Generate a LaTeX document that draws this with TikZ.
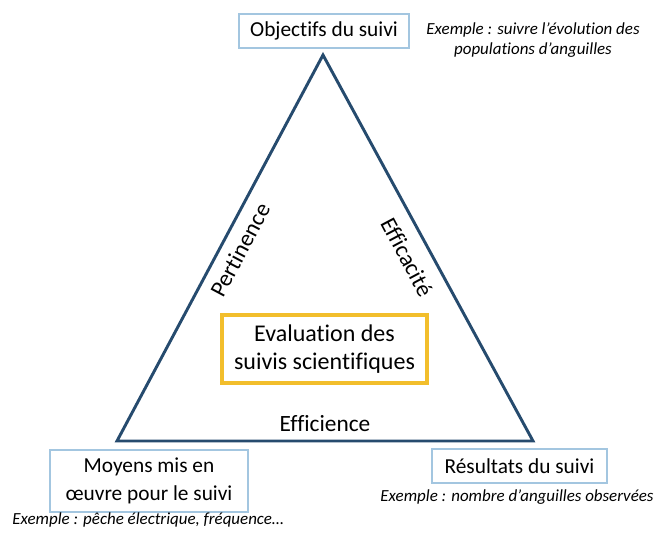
\documentclass[tikz,border=0pt]{standalone}
\usepackage{fontspec}
\setmainfont{Carlito}[RawFeature=-liga]
\usetikzlibrary{positioning}

\definecolor{sidecol}{HTML}{264B6E}
\definecolor{boxcol}{HTML}{A3C6E0}
\definecolor{evalcol}{HTML}{F2BE2C}

\begin{document}
\begin{tikzpicture}[
  x=0.75pt,
  y=-0.75pt,
  side/.style={draw=sidecol, line width=2.2pt, line join=miter},
  stagebox/.style={
    draw=boxcol,
    fill=white,
    line width=1.5pt,
    align=center,
    inner sep=2pt,
    font=\fontsize{16}{20.5}\selectfont
  },
  evalbox/.style={
    draw=evalcol,
    fill=white,
    line width=3pt,
    align=center,
    inner sep=2pt,
    font=\fontsize{18}{20.5}\selectfont
  },
  criterion/.style={font=\fontsize{17.5}{20}\selectfont, inner sep=0pt},
  example/.style={font=\fontsize{12.7}{15}\selectfont\itshape, align=center, inner sep=0pt}
]
\useasboundingbox (0,0) rectangle (656,534);

% ---------------------------------------------------------------------------
% Triangle
% ---------------------------------------------------------------------------
\coordinate (apex) at (323,55);
\coordinate (left) at (117,441);
\coordinate (right) at (533,441);
\draw[side] (apex) -- (left) -- (right) -- cycle;

\node[criterion, rotate=62] (pertinence) at (240,250) {Pertinence};
\node[criterion, rotate=-62] (efficacite) at (407,257) {Efficacité};
\node[criterion] (efficience) at (325,424) {Efficience};

\node[evalbox, minimum width=154pt, minimum height=51pt] (evaluation) at (324.5,349)
  {Evaluation des\\suivis scientifiques};

% ---------------------------------------------------------------------------
% Corner boxes and examples
% ---------------------------------------------------------------------------
\node[stagebox, minimum width=127.5pt, minimum height=25.5pt] (objectifs) at (324,31)
  {Objectifs du suivi};
\node[stagebox, minimum width=148.5pt, minimum height=46.5pt] (moyens) at (149,481)
  {Moyens mis en\\œuvre pour le suivi};
\node[stagebox, minimum width=131pt, minimum height=25.5pt] (resultats) at (519.5,466)
  {Résultats du suivi};

\node[example] (exobjectifs) at (533,40)
  {Exemple : suivre l’évolution des\\populations d’anguilles};
\node[example] (exmoyens) at (148,520)
  {Exemple : pêche électrique, fréquence…};
\node[example] (exresultats) at (517,497)
  {Exemple : nombre d’anguilles observées};

\end{tikzpicture}
\end{document}
